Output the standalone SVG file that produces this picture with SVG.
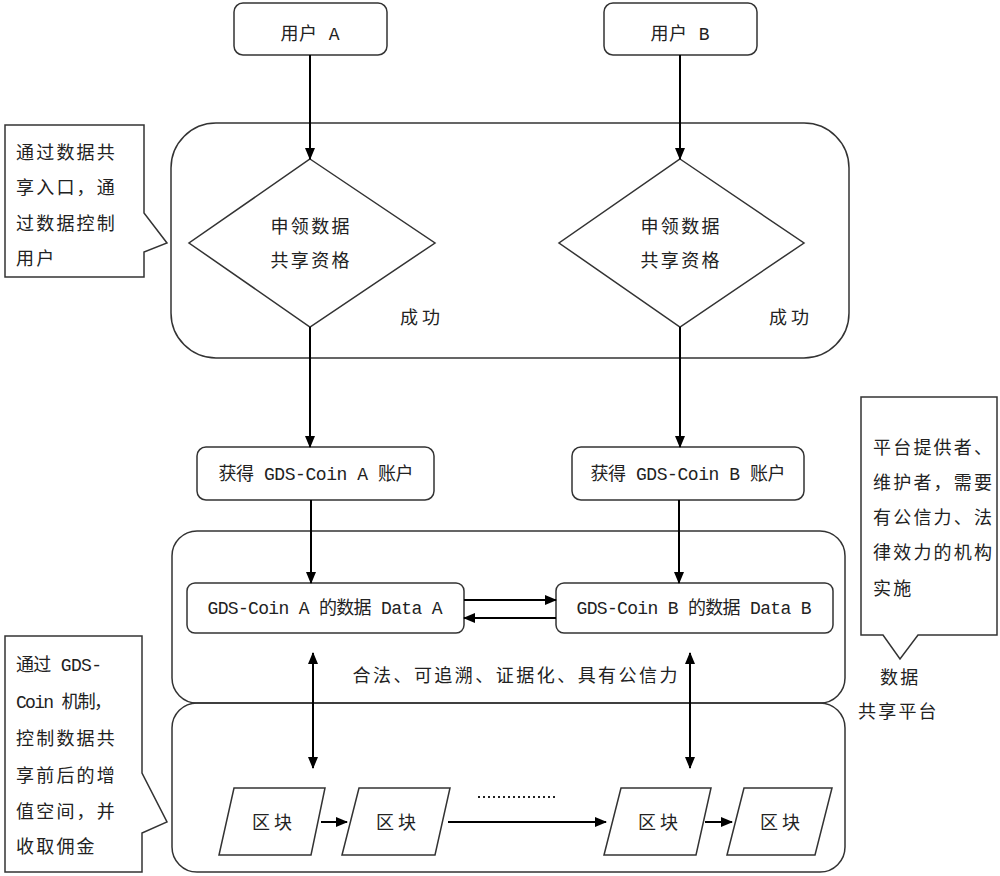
<svg xmlns="http://www.w3.org/2000/svg" width="1000" height="876" viewBox="0 0 1000 876">
<style>
.bg{fill:#fff}
.shape{fill:#fff;stroke:#333;stroke-width:1.5}
.frame{fill:none;stroke:#333;stroke-width:1.5}
.conn{fill:none;stroke:#000;stroke-width:2}
.dot{fill:none;stroke:#222;stroke-width:2;stroke-dasharray:2 3}
text{font-family:"Liberation Mono","Noto Sans CJK SC",monospace;font-size:18px;fill:#222}
.c{text-anchor:middle}
.cl{letter-spacing:2.2px}
</style>
<defs>
<marker id="ah" markerWidth="12" markerHeight="10" refX="11" refY="5" orient="auto" markerUnits="userSpaceOnUse">
<path d="M0,0 L12,5 L0,10 Z" fill="#000"/>
</marker>
<marker id="ahs" markerWidth="12" markerHeight="10" refX="1" refY="5" orient="auto" markerUnits="userSpaceOnUse">
<path d="M12,0 L0,5 L12,10 Z" fill="#000"/>
</marker>
</defs>
<rect class="bg" width="1000" height="876"/>

<g id="platform-frames">
<rect class="frame" x="171" y="123" width="678" height="235" rx="45"/>
<rect class="frame" x="172" y="531" width="673" height="172" rx="25"/>
<rect class="frame" x="172" y="703" width="673" height="169" rx="25"/>
</g>

<g id="userA"><rect class="shape" x="234" y="3" width="153" height="52" rx="9"/><text class="c" x="310" y="40" textLength="59" lengthAdjust="spacing">用户 A</text></g>
<g id="userB"><rect class="shape" x="604" y="3" width="153" height="52" rx="9"/><text class="c" x="680" y="40" textLength="59" lengthAdjust="spacing">用户 B</text></g>

<g id="decisionA"><polygon class="shape" points="310,159 435,243 310,327 189,243"/>
<text class="c" x="310" y="233" textLength="79" lengthAdjust="spacing">申领数据</text>
<text class="c" x="310" y="267" textLength="79" lengthAdjust="spacing">共享资格</text></g>
<g id="decisionB"><polygon class="shape" points="680,159 804,243 680,327 559,243"/>
<text class="c" x="680" y="233" textLength="79" lengthAdjust="spacing">申领数据</text>
<text class="c" x="680" y="267" textLength="79" lengthAdjust="spacing">共享资格</text></g>
<g id="successA"><text class="c" x="420" y="324" textLength="40" lengthAdjust="spacing">成功</text></g>
<g id="successB"><text class="c" x="789" y="324" textLength="40" lengthAdjust="spacing">成功</text></g>

<g id="accountA"><rect class="shape" x="197" y="447" width="237" height="53" rx="9"/><text class="c" x="316" y="480" textLength="195" lengthAdjust="spacing">获得 GDS-Coin A 账户</text></g>
<g id="accountB"><rect class="shape" x="572" y="447" width="232" height="53" rx="9"/><text class="c" x="688" y="480" textLength="195" lengthAdjust="spacing">获得 GDS-Coin B 账户</text></g>

<g id="dataA"><rect class="shape" x="187" y="583" width="277" height="50" rx="8"/><text class="c" x="325" y="614" textLength="235" lengthAdjust="spacing">GDS-Coin A 的数据 Data A</text></g>
<g id="dataB"><rect class="shape" x="556" y="583" width="277" height="50" rx="8"/><text class="c" x="694" y="614" textLength="235" lengthAdjust="spacing">GDS-Coin B 的数据 Data B</text></g>

<g id="trust-label"><text class="c" x="515" y="682" textLength="325" lengthAdjust="spacing">合法、可追溯、证据化、具有公信力</text></g>

<g id="block1"><polygon class="shape" points="234,788 325,788 311,855 219,855"/><text class="c" x="272" y="829" textLength="40" lengthAdjust="spacing">区块</text></g>
<g id="block2"><polygon class="shape" points="359,788 450,788 435,855 342,855"/><text class="c" x="396" y="829" textLength="40" lengthAdjust="spacing">区块</text></g>
<g id="block3"><polygon class="shape" points="621,788 711,788 696,855 604,855"/><text class="c" x="658" y="829" textLength="40" lengthAdjust="spacing">区块</text></g>
<g id="block4"><polygon class="shape" points="744,788 832,788 815,855 727,855"/><text class="c" x="780" y="829" textLength="40" lengthAdjust="spacing">区块</text></g>

<g id="note-entry"><path class="shape" d="M5,125 H144 V213 L167,243 L144,252 V277 H5 Z"/>
<text class="cl" x="16" y="159">通过数据共</text>
<text class="cl" x="16" y="194">享入口，通</text>
<text class="cl" x="16" y="230">过数据控制</text>
<text class="cl" x="16" y="265">用户</text></g>

<g id="note-provider"><path class="shape" d="M861,397 H997 V635 H918 L900,659 L883,635 H861 Z"/>
<text class="cl" x="873" y="454">平台提供者、</text>
<text class="cl" x="873" y="489">维护者，需要</text>
<text class="cl" x="873" y="524">有公信力、法</text>
<text class="cl" x="873" y="559">律效力的机构</text>
<text class="cl" x="873" y="595">实施</text></g>

<g id="platform-label"><text class="cl" x="880" y="684">数据</text><text class="cl" x="858" y="718">共享平台</text></g>

<g id="note-coin"><path class="shape" d="M5,636 H142 V773 L167,822 L142,833 V872 H5 Z"/>
<text x="16" y="671" textLength="86" lengthAdjust="spacing">通过 GDS-</text>
<text x="16" y="708" textLength="96" lengthAdjust="spacing">Coin 机制，</text>
<text class="cl" x="16" y="745">控制数据共</text>
<text class="cl" x="16" y="782">享前后的增</text>
<text class="cl" x="16" y="818">值空间，并</text>
<text class="cl" x="16" y="853">收取佣金</text></g>

<g id="connectors">
<line class="conn" x1="310" y1="55" x2="310" y2="159" marker-end="url(#ah)"/>
<line class="conn" x1="680" y1="55" x2="680" y2="159" marker-end="url(#ah)"/>
<line class="conn" x1="310" y1="327" x2="310" y2="447" marker-end="url(#ah)"/>
<line class="conn" x1="680" y1="327" x2="680" y2="447" marker-end="url(#ah)"/>
<line class="conn" x1="311" y1="500" x2="311" y2="583" marker-end="url(#ah)"/>
<line class="conn" x1="679" y1="500" x2="679" y2="583" marker-end="url(#ah)"/>
<line class="conn" x1="464" y1="600" x2="556" y2="600" marker-end="url(#ah)"/>
<line class="conn" x1="556" y1="618" x2="464" y2="618" marker-end="url(#ah)"/>
<line class="conn" x1="313" y1="653" x2="313" y2="768" marker-start="url(#ahs)" marker-end="url(#ah)"/>
<line class="conn" x1="690" y1="653" x2="690" y2="768" marker-start="url(#ahs)" marker-end="url(#ah)"/>
<line class="conn" x1="321" y1="822" x2="347" y2="822" marker-end="url(#ah)"/>
<line class="conn" x1="448" y1="822" x2="606" y2="822" marker-end="url(#ah)"/>
<line class="conn" x1="705" y1="822" x2="732" y2="822" marker-end="url(#ah)"/>
<line class="dot" x1="478" y1="797" x2="556" y2="797"/>
</g>
</svg>
